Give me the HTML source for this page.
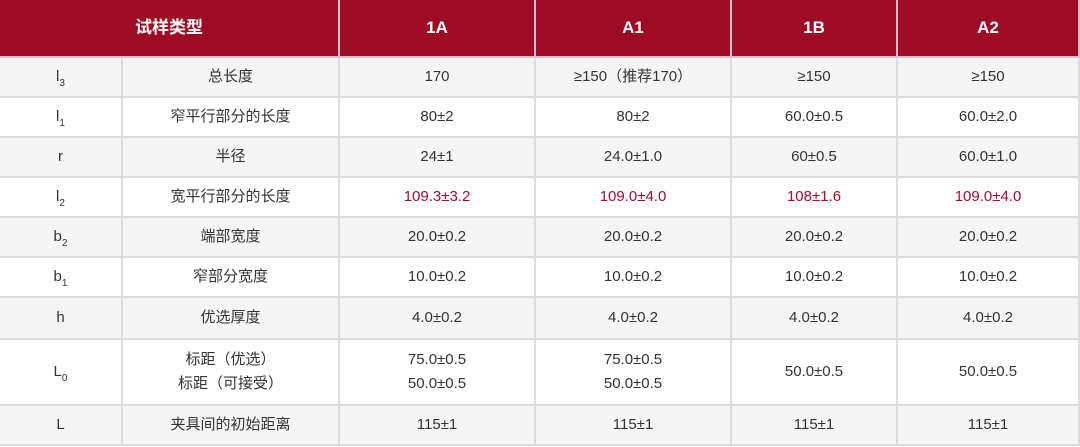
<!DOCTYPE html>
<html><head><meta charset="utf-8"><style>
body{margin:0;width:1080px;height:447px;background:#fff;overflow:hidden;font-family:"Liberation Sans","Noto Sans CJK SC",sans-serif;}
.c{position:absolute;display:flex;align-items:center;justify-content:center;text-align:center;box-sizing:border-box;border-right:2px solid #dcdcdc;border-bottom:2px solid #dcdcdc;font-size:15px;color:#333;line-height:24px}
.h{background:#9e0b25;color:#fff;font-weight:bold;font-size:17px;border-color:#e0c0c8}
.red{color:#a0102c}
sub{font-size:10px;vertical-align:-5px;line-height:0}
</style></head><body>
<div id="t"></div>
<script>
const X=[0,123,340,536,732,898,1080];
const Y=[0,58,98,138,178,218,258,298,340,406,446];
const rows=[
["l<sub>3</sub>","总长度","170","≥150（推荐170）","≥150","≥150"],
["l<sub>1</sub>","窄平行部分的长度","80±2","80±2","60.0±0.5","60.0±2.0"],
["r","半径","24±1","24.0±1.0","60±0.5","60.0±1.0"],
["l<sub>2</sub>","宽平行部分的长度","<span class=red>109.3±3.2</span>","<span class=red>109.0±4.0</span>","<span class=red>108±1.6</span>","<span class=red>109.0±4.0</span>"],
["b<sub>2</sub>","端部宽度","20.0±0.2","20.0±0.2","20.0±0.2","20.0±0.2"],
["b<sub>1</sub>","窄部分宽度","10.0±0.2","10.0±0.2","10.0±0.2","10.0±0.2"],
["h","优选厚度","4.0±0.2","4.0±0.2","4.0±0.2","4.0±0.2"],
["L<sub>0</sub>","标距（优选）<br>标距（可接受）","75.0±0.5<br>50.0±0.5","75.0±0.5<br>50.0±0.5","50.0±0.5","50.0±0.5"],
["L","夹具间的初始距离","115±1","115±1","115±1","115±1"]];
let s='';
function cell(x0,x1,y0,y1,cls,txt,bg){s+=`<div class="c ${cls}" style="left:${x0}px;top:${y0}px;width:${x1-x0}px;height:${y1-y0}px;${bg?'background:'+bg:''}"><span>${txt}</span></div>`;}
cell(0,340,0,58,'h','试样类型');
['1A','A1','1B','A2'].forEach((t,i)=>cell(X[i+2],X[i+3],0,58,'h',t));
rows.forEach((r,ri)=>{const bg=ri%2==0?'#f5f5f5':'#fff';r.forEach((t,ci)=>cell(X[ci],X[ci+1],Y[ri+1],Y[ri+2],'',t,bg));});
document.getElementById('t').innerHTML=s;
</script>
</body></html>
